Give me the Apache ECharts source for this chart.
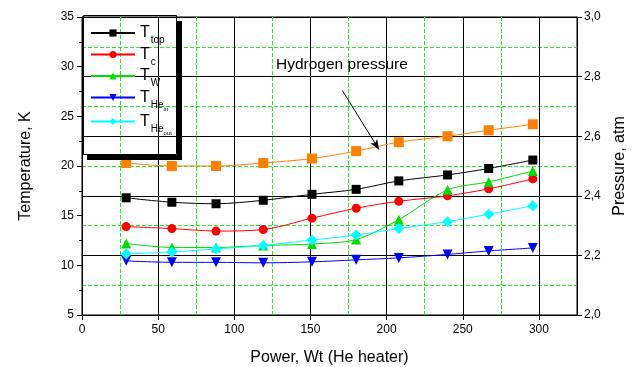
<!DOCTYPE html>
<html>
<head>
<meta charset="utf-8">
<script src="https://cdn.jsdelivr.net/npm/echarts@6/dist/echarts.min.js"></script>
<style>
html,body{margin:0;padding:0;background:#fff;}
#chart{width:637px;height:367px;}
</style>
</head>
<body>
<div id="chart"></div>
<script>
// ---- data ----
const powerW   = [29, 59, 88, 119, 151, 180, 208, 240, 267, 296];
const tTop     = [16.8, 16.35, 16.2, 16.55, 17.15, 17.65, 18.5, 19.1, 19.75, 20.6];
const tC       = [13.9, 13.7, 13.45, 13.6, 14.75, 15.75, 16.45, 17.0, 17.7, 18.7];
const tW       = [12.2, 11.8, 11.8, 12.0, 12.15, 12.6, 14.6, 17.6, 18.4, 19.5];
const tHeIn    = [10.45, 10.3, 10.3, 10.25, 10.35, 10.55, 10.75, 11.1, 11.45, 11.75];
const tHeOut   = [11.15, 11.35, 11.65, 12.0, 12.55, 13.05, 13.7, 14.4, 15.15, 16.0];
const pressure = [2.51, 2.50, 2.50, 2.51, 2.525, 2.55, 2.58, 2.60, 2.62, 2.64];
const xMinorGrid = [25, 75, 125, 175, 225, 275];
const arrowFrom = [171, 2.753];
const arrowTo   = [195, 2.555];

const FONT = "'Liberation Sans', Arial, sans-serif";
const GREEN_GRID = '#22ee22';

function pts(arr){ return powerW.map((x,i)=>[x, arr[i]]); }

const legendLabels = {
  'Ttop':   '{t|T}{s|top}',
  'Tc':     '{t|T}{s|c}',
  'TW':     '{t|T}{s|W}',
  'THein':  '{t|T}{s|He}{ss|in}',
  'THeout': '{t|T}{s|He}{ss|out}'
};

function tSeries(name, data, color, symbol, size, rot){
  return {
    name, type:'line', data: pts(data), smooth:0.3,
    symbol, symbolSize:size, symbolRotate: rot||0,
    lineStyle:{color, width:1}, itemStyle:{color},
    xAxisIndex:0, yAxisIndex:0, z:3
  };
}

const chart = echarts.init(document.getElementById('chart'), null, {renderer:'canvas'});
chart.setOption({
  animation:false,
  backgroundColor:'#fff',
  grid:{left:82, right:60, top:17, bottom:52, show:true, borderColor:'#000', borderWidth:1,
        backgroundColor:'transparent', containLabel:false, outerBoundsMode:'none'},
  legend:{
    show:true, orient:'vertical', left:90, top:20, padding:0,
    itemWidth:44, itemHeight:9, itemGap:-4, selectedMode:false,
    data:['Ttop','Tc','TW','THein','THeout'],
    formatter: n => legendLabels[n],
    textStyle:{
      fontFamily:FONT, color:'#000',
      rich:{
        t:{fontSize:16, fontFamily:FONT, lineHeight:26, verticalAlign:'middle', color:'#000'},
        s:{fontSize:10, fontFamily:FONT, lineHeight:10, verticalAlign:'top', padding:[15.5,0,0,1], color:'#000'},
        ss:{fontSize:6, fontFamily:FONT, lineHeight:6, verticalAlign:'top', padding:[22,0,0,0], color:'#000'}
      }
    }
  },
  xAxis:[{
    type:'value', min:0, max:325, interval:50,
    name:'Power, Wt (He heater)', nameLocation:'middle', nameGap:35,
    nameTextStyle:{fontFamily:FONT, fontSize:16, color:'#000'},
    axisLine:{show:true, lineStyle:{color:'#000', width:1}},
    axisTick:{show:true, inside:false, length:5, lineStyle:{color:'#000'}},
    axisLabel:{fontFamily:FONT, fontSize:12, color:'#000', margin:9, showMaxLabel:false},
    splitLine:{show:true, lineStyle:{color:'#000', width:1}},
    minorTick:{show:false}, minorSplitLine:{show:false}
  }],
  yAxis:[{
    type:'value', min:5, max:35, interval:5, position:'left',
    name:'Temperature, K', nameLocation:'middle', nameGap:48, nameRotate:90,
    nameTextStyle:{fontFamily:FONT, fontSize:16, color:'#000'},
    axisLine:{show:true, lineStyle:{color:'#000', width:1}},
    axisTick:{show:true, inside:false, length:5, lineStyle:{color:'#000'}},
    minorTick:{show:true, splitNumber:2, length:3, lineStyle:{color:'#000'}},
    axisLabel:{fontFamily:FONT, fontSize:12, color:'#000', margin:8},
    splitLine:{show:false}
  },{
    type:'value', min:2.0, max:3.0, interval:0.2, position:'right',
    name:'Pressure, atm', nameLocation:'middle', nameGap:34, nameRotate:90,
    nameTextStyle:{fontFamily:FONT, fontSize:16, color:'#000'},
    axisLine:{show:true, lineStyle:{color:'#000', width:1}},
    axisTick:{show:true, inside:false, length:5, lineStyle:{color:'#000'}},
    minorTick:{show:false, splitNumber:2},
    axisLabel:{fontFamily:FONT, fontSize:12, color:'#000', margin:7,
      formatter: v => v.toFixed(1).replace('.', ',')},
    splitLine:{show:true, lineStyle:{color:'#000', width:1}},
    minorSplitLine:{show:true, lineStyle:{color:GREEN_GRID, width:1, type:[4,2]}}
  }],
  graphic:[
    {type:'rect', shape:{x:177, y:21, width:5, height:139}, style:{fill:'#000'}, z:100},
    {type:'rect', shape:{x:87, y:155, width:95, height:5}, style:{fill:'#000'}, z:100},
    {type:'rect', shape:{x:83.5, y:15.5, width:93, height:139}, style:{fill:'none', stroke:'#000', lineWidth:1}, z:101},
    {type:'text', left:276, top:57, z:100,
      style:{text:'Hydrogen pressure', font:'15.5px '+FONT, fill:'#000'}}
  ],
  series:[
    {
      name:'gridMinorX', type:'line', data:[], xAxisIndex:0, yAxisIndex:0, z:1, silent:true,
      markLine:{silent:true, symbol:'none', animation:false, z:1,
        label:{show:false},
        lineStyle:{color:GREEN_GRID, width:1, type:[4,2]},
        emphasis:{disabled:true},
        data: xMinorGrid.map(v=>({xAxis:v}))}
    },
    tSeries('Ttop', tTop, '#000000', 'rect', 9),
    tSeries('Tc', tC, '#ff0000', 'circle', 9),
    tSeries('TW', tW, '#00dd00', 'triangle', 10),
    tSeries('THein', tHeIn, '#0000ff', 'triangle', 10, 180),
    tSeries('THeout', tHeOut, '#00ffff', 'diamond', 11),
    {
      name:'Pressure', type:'line', data: pts(pressure), smooth:0.3,
      symbol:'rect', symbolSize:10,
      lineStyle:{color:'#ff8000', width:1}, itemStyle:{color:'#ff8000'},
      xAxisIndex:0, yAxisIndex:1, z:3,
      markLine:{silent:true, animation:false, symbol:['none','arrow'], symbolSize:[6,10],
        label:{show:false}, emphasis:{disabled:true},
        lineStyle:{color:'#000', width:1, type:'solid'},
        data:[[{coord:arrowFrom},{coord:arrowTo}]]}
    }
  ]
});
</script>
</body>
</html>
